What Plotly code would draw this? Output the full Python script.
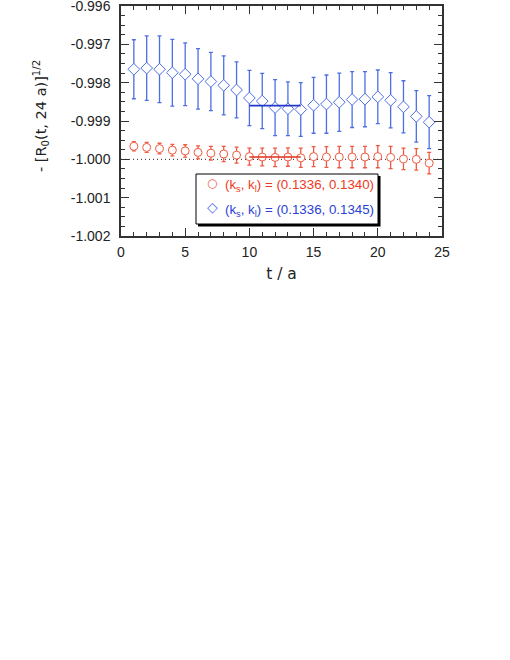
import plotly.graph_objects as go

# data
t = list(range(1, 25))

red_y = [-0.99966, -0.99969, -0.99972, -0.99976, -0.99978, -0.99982, -0.99984, -0.99986,
         -0.99989, -0.99993, -0.99994, -0.99995, -0.99994, -0.99996, -0.99993, -0.99994,
         -0.99994, -0.99994, -0.99994, -0.99993, -0.99995, -0.99999, -1.00000, -1.00010]
red_err = [0.00012, 0.00013, 0.00014, 0.00015, 0.00016, 0.00017, 0.00018, 0.00020,
           0.00021, 0.00022, 0.00023, 0.00024, 0.00024, 0.00025, 0.00026, 0.00027,
           0.00028, 0.00028, 0.00028, 0.00029, 0.00029, 0.00028, 0.00028, 0.00028]

blue_y = [-0.99765, -0.99762, -0.99765, -0.99774, -0.99778, -0.99790, -0.99797, -0.99807,
          -0.99819, -0.99840, -0.99848, -0.99865, -0.99868, -0.99870, -0.99859, -0.99856,
          -0.99851, -0.99844, -0.99843, -0.99837, -0.99846, -0.99863, -0.99888, -0.99903]
blue_err = [0.00077, 0.00084, 0.00087, 0.00087, 0.00082, 0.00079, 0.00076, 0.00077,
            0.00073, 0.00072, 0.00072, 0.00073, 0.00070, 0.00070, 0.00073, 0.00076,
            0.00076, 0.00073, 0.00072, 0.00070, 0.00072, 0.00068, 0.00067, 0.00069]

fit_t = [10, 14]
red_fit = -0.99994
blue_fit = -0.99860
ref_level = -1.0

ytick_vals = [-1.002, -1.001, -1.000, -0.999, -0.998, -0.997, -0.996]
ytick_text = ["-1.002", "-1.001", "-1.000", "-0.999", "-0.998", "-0.997", "-0.996"]

red_label = "(k<sub>s</sub>, k<sub>l</sub>) = (0.1336, 0.1340)"
blue_label = "(k<sub>s</sub>, k<sub>l</sub>) = (0.1336, 0.1345)"
y_title = "- [R<sub>0</sub>(t, 24 a)]<sup>1/2</sup>"

RED = "#ef5a42"
BLUE = "#4d6fe3"
FONT = "Liberation Sans, Arial, sans-serif"
WIDE = "DejaVu Sans, Verdana, sans-serif"

# plot area in pixels (for placing the hand-made legend box)
L, R, T, B = 121, 442, 6, 236


def px(x):
    return (x - L) / (R - L)


def py(y):
    return 1 - (y - T) / (B - T)


fig = go.Figure()

fig.add_trace(go.Scatter(
    x=[0, 25], y=[ref_level, ref_level], mode="lines",
    line=dict(color="#222222", width=1, dash="1px,3px"),
    showlegend=False, hoverinfo="skip"
))

fig.add_trace(go.Scatter(
    x=t, y=red_y, mode="markers", showlegend=False,
    marker=dict(symbol="circle", size=8, color="white", line=dict(color=RED, width=1)),
    error_y=dict(type="data", array=red_err, color=RED, thickness=1.3, width=2)
))

fig.add_trace(go.Scatter(
    x=t, y=blue_y, mode="markers", showlegend=False,
    marker=dict(symbol="diamond", size=9, color="white", line=dict(color=BLUE, width=1)),
    error_y=dict(type="data", array=blue_err, color=BLUE, thickness=1.3, width=2)
))

# plateau fits
fig.add_trace(go.Scatter(
    x=fit_t, y=[red_fit, red_fit], mode="lines",
    line=dict(color="#e0301c", width=1.6), showlegend=False, hoverinfo="skip"
))
fig.add_trace(go.Scatter(
    x=fit_t, y=[blue_fit, blue_fit], mode="lines",
    line=dict(color="#2238c8", width=1.6), showlegend=False, hoverinfo="skip"
))

# legend box with drop shadow
fig.add_shape(type="rect", xref="paper", yref="paper",
              x0=px(198), x1=px(380.5), y0=py(226.5), y1=py(176),
              fillcolor="black", line=dict(width=0), layer="above")
fig.add_shape(type="rect", xref="paper", yref="paper",
              x0=px(196), x1=px(378), y0=py(224), y1=py(174),
              fillcolor="white", line=dict(color="black", width=1), layer="above")

fig.add_annotation(x=px(212), y=py(183), xref="paper", yref="paper", text="○",
                   xanchor="center", yanchor="middle", showarrow=False,
                   font=dict(family="DejaVu Sans", size=12, color=RED))
fig.add_annotation(x=px(212), y=py(207), xref="paper", yref="paper", text="◇",
                   xanchor="center", yanchor="middle", showarrow=False,
                   font=dict(family="DejaVu Sans", size=14, color=BLUE))
fig.add_annotation(x=px(223), y=py(185), xref="paper", yref="paper", text=red_label,
                   xanchor="left", yanchor="middle", showarrow=False,
                   font=dict(family=FONT, size=13.3, color="#ee3a22"))
fig.add_annotation(x=px(223), y=py(210), xref="paper", yref="paper", text=blue_label,
                   xanchor="left", yanchor="middle", showarrow=False,
                   font=dict(family=FONT, size=13.3, color="#2a3fd8"))

# y axis title (placed by hand, wider font like the original)
fig.add_annotation(x=px(41), y=py(116), xref="paper", yref="paper", text=y_title,
                   textangle=-90, xanchor="center", yanchor="middle", showarrow=False,
                   font=dict(family=WIDE, size=14.5, color="#222222"))

axis_common = dict(
    showline=True, linecolor="#333333", linewidth=1.5, mirror="allticks",
    ticks="inside", ticklen=8, tickwidth=1, tickcolor="#333333",
    showgrid=False, zeroline=False, automargin=False, ticklabeloverflow="allow",
    tickfont=dict(family=FONT, size=14, color="#222222"),
)

fig.update_xaxes(
    range=[0, 25], dtick=5, tick0=0, ticklabelstandoff=2,
    minor=dict(dtick=1, ticks="inside", ticklen=4, tickcolor="#333333"),
    title=dict(text="t / a", font=dict(family=WIDE, size=15.5, color="#222222"), standoff=10),
    **axis_common
)
fig.update_yaxes(
    range=[-1.002, -0.996], tickvals=ytick_vals, ticktext=ytick_text, ticklabelstandoff=6,
    minor=dict(tickvals=[-1.002 + 0.00025 * i for i in range(25)], ticks="inside", ticklen=4,
               tickcolor="#333333"),
    **axis_common
)

fig.update_layout(
    width=510, height=660,
    margin=dict(l=L, r=510 - R, t=T, b=660 - B),
    plot_bgcolor="white", paper_bgcolor="white",
    showlegend=False,
)

fig.write_html("out.html", config={"displayModeBar": False},
               post_script="document.body.style.margin = '0';")
